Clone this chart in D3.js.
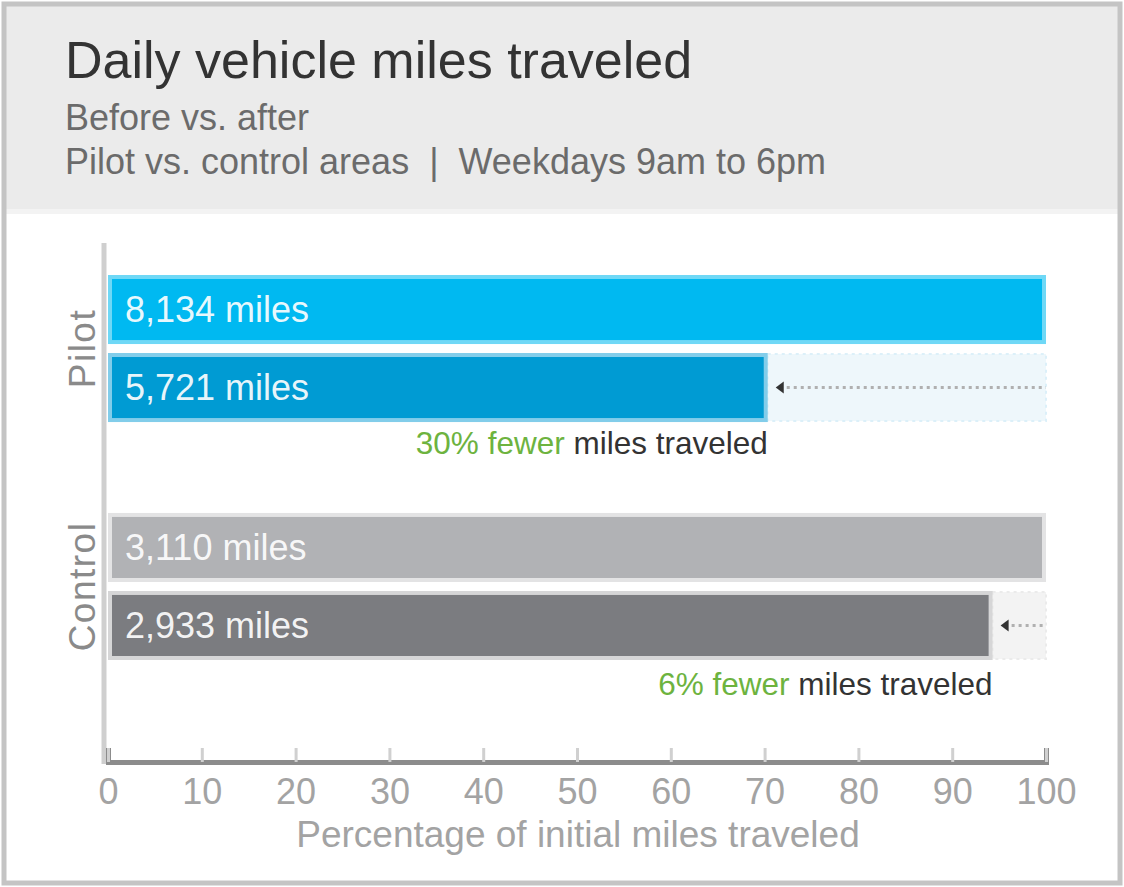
<!DOCTYPE html>
<html lang="en">
    <head>
        <title>Daily vehicle miles traveled</title>
        <script src="https://d3js.org/d3.v7.min.js"></script>
        <style>
            body { margin: 0; background: #fff; }
            text { font-family: "Liberation Sans", Arial, sans-serif; }
        </style>
    </head>
    <body>
        <script>

            var groups = ["Pilot", "Control"];
            var phases = ["before", "after"];
            var milesBefore = [8134, 3110];
            var milesAfter = [5721, 2933];
            var xTicks = [0, 10, 20, 30, 40, 50, 60, 70, 80, 90, 100];

            var width = 1124
            var height = 887

            var colors = {
                Pilot:   { before: "#00b9f1", beforeEdge: "#6fd8f6", after: "#009bd3", afterEdge: "#82cdea", rest: "#eef7fb", restEdge: "#dcf0f9" },
                Control: { before: "#b1b2b5", beforeEdge: "#e3e3e4", after: "#7b7c80", afterEdge: "#d6d6d7", rest: "#f3f3f3", restEdge: "#ebebeb" }
            };

            var rows = groups.map(function(g, i) {
                var pct = milesAfter[i] / milesBefore[i] * 100;
                return { group: g, before: milesBefore[i], after: milesAfter[i], pct: pct, drop: Math.round(100 - pct) };
            });

            var svg = d3.select("body").append("svg")
                .attr("width", width)
                .attr("height", height)

            // frame + header band
            svg.append("rect")
                .attr("x", 0).attr("y", 0).attr("width", width).attr("height", height)
                .attr("fill", "#fff")
            svg.append("rect")
                .attr("x", 6).attr("y", 6).attr("width", width - 10).attr("height", 204)
                .attr("fill", "#ebebeb")
            svg.append("rect")
                .attr("x", 6).attr("y", 209).attr("width", width - 10).attr("height", 5)
                .attr("fill", "#f3f3f3")
            svg.append("rect")
                .attr("x", 4).attr("y", 4).attr("width", width - 8).attr("height", height - 8)
                .attr("fill", "none").attr("stroke", "#c4c4c4").attr("stroke-width", 5)

            svg.append("text")
                .attr("x", 65).attr("y", 78)
                .attr("font-size", 52)
                .attr("fill", "#333")
                .text("Daily vehicle miles traveled")
            svg.append("text")
                .attr("x", 65).attr("y", 130)
                .attr("font-size", 36)
                .attr("fill", "#6b6b6b")
                .text("Before vs. after")
            svg.append("text")
                .attr("x", 65).attr("y", 174)
                .attr("font-size", 36)
                .attr("fill", "#6b6b6b")
                .attr("xml:space", "preserve")
                .style("white-space", "pre")
                .text("Pilot vs. control areas  |  Weekdays 9am to 6pm")

            // scales
            var x = d3.scaleLinear().domain([0, 100]).range([108, 1046]);
            var y0 = d3.scaleBand().domain(groups).range([275, 660]).paddingInner(0.382);
            var y1 = d3.scaleBand().domain(phases).range([0, y0.bandwidth()]).paddingInner(0.115);

            // vertical axis line
            svg.append("line")
                .attr("x1", 104).attr("x2", 104)
                .attr("y1", 243).attr("y2", 764)
                .attr("stroke", "#cfcfcf").attr("stroke-width", 5)

            // x axis
            var xAxis = svg.append("g")
                .attr("transform", "translate(0,762)")
                .call(d3.axisBottom(x).tickValues(xTicks).tickSize(-14).tickPadding(16))
            xAxis.select(".domain").attr("stroke", "#8c8c8c").attr("stroke-width", 5)
            xAxis.selectAll(".tick line").attr("stroke", "#d0d0d0").attr("stroke-width", 3)
            xAxis.selectAll(".tick text")
                .attr("font-size", 36)
                .attr("fill", "#a3a3a3")
                .style("font-family", "'Liberation Sans', Arial, sans-serif")

            svg.append("text")
                .attr("x", 578).attr("y", 847)
                .attr("text-anchor", "middle")
                .attr("font-size", 37)
                .attr("fill", "#a3a3a3")
                .text("Percentage of initial miles traveled")

            // groups
            var g = svg.selectAll("g.grp").data(rows).enter()
                .append("g")
                .attr("class", "grp")
                .attr("transform", function(d) { return "translate(0," + y0(d.group) + ")"; })

            g.append("text")
                .attr("transform", function(d) { return "translate(95," + (y0.bandwidth() / 2) + ")rotate(-90)"; })
                .attr("text-anchor", "middle")
                .attr("font-size", 37).attr("letter-spacing", 1.5)
                .attr("fill", "#8a8a8a")
                .text(function(d) { return d.group; })

            // remainder area behind the "after" bar
            g.append("rect")
                .attr("x", function(d) { return x(d.pct); })
                .attr("y", y1("after") + 1)
                .attr("width", function(d) { return x(100) - x(d.pct); })
                .attr("height", y1.bandwidth() - 2)
                .attr("fill", function(d) { return colors[d.group].rest; })
                .attr("stroke", function(d) { return colors[d.group].restEdge; })
                .attr("stroke-width", 2)
                .attr("stroke-dasharray", "3,4")

            // before bars (100%)
            g.append("rect")
                .attr("x", x(0) + 2)
                .attr("y", y1("before") + 2)
                .attr("width", x(100) - x(0) - 4)
                .attr("height", y1.bandwidth() - 4)
                .attr("fill", function(d) { return colors[d.group].before; })
                .attr("stroke", function(d) { return colors[d.group].beforeEdge; })
                .attr("stroke-width", 4)

            // after bars
            g.append("rect")
                .attr("x", x(0) + 2)
                .attr("y", y1("after") + 2)
                .attr("width", function(d) { return x(d.pct) - x(0) - 4; })
                .attr("height", y1.bandwidth() - 4)
                .attr("fill", function(d) { return colors[d.group].after; })
                .attr("stroke", function(d) { return colors[d.group].afterEdge; })
                .attr("stroke-width", 4)

            // bar labels
            var fmt = d3.format(",");
            phases.forEach(function(p) {
                g.append("text")
                    .attr("x", x(0) + 17)
                    .attr("y", y1(p) + y1.bandwidth() / 2)
                    .attr("dy", "0.36em")
                    .attr("font-size", 36)
                    .attr("fill", "#fff").attr("fill-opacity", 0.92)
                    .text(function(d) { return fmt(d[p]) + " miles"; })
            })

            // dotted arrow
            var ay = y1("after") + y1.bandwidth() / 2;
            g.append("line")
                .attr("x1", function(d) { return x(d.pct) + 12; })
                .attr("x2", x(100))
                .attr("y1", ay).attr("y2", ay)
                .attr("stroke", "#b0b0b0").attr("stroke-width", 3)
                .attr("stroke-dasharray", "3,4")
            g.append("path")
                .attr("d", function(d) {
                    var ax = x(d.pct) + 8;
                    return "M" + ax + "," + ay + "l8,-6l0,12z";
                })
                .attr("fill", "#333")

            // annotation
            var note = g.append("text")
                .attr("x", function(d) { return x(d.pct); })
                .attr("y", function(d, i) { return y1("after") + y1.bandwidth() + 32 + i * 3; })
                .attr("text-anchor", "end")
                .attr("font-size", 31.5)
            note.append("tspan")
                .attr("fill", "#6db33f")
                .text(function(d) { return d.drop + "% fewer"; })
            note.append("tspan")
                .attr("fill", "#333")
                .text(" miles traveled")

        </script>
    </body>
</html>
